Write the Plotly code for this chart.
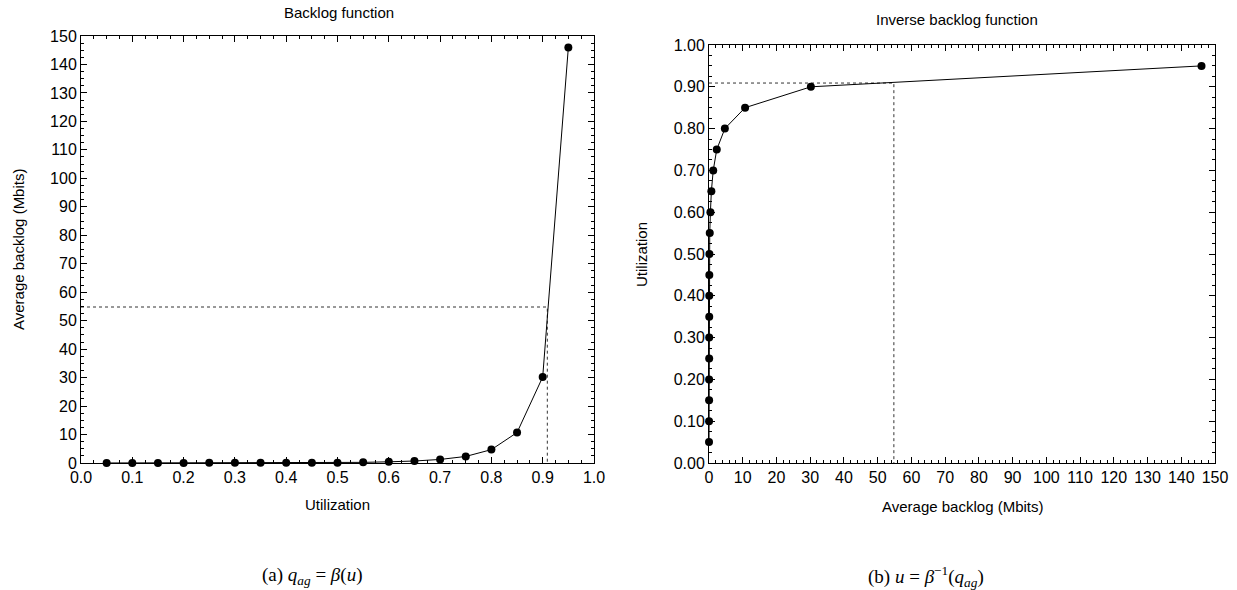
import plotly.graph_objects as go

utilization = [0.05, 0.10, 0.15, 0.20, 0.25, 0.30, 0.35, 0.40, 0.45, 0.50,
               0.55, 0.60, 0.65, 0.70, 0.75, 0.80, 0.85, 0.90, 0.95]
backlog = [0.01, 0.02, 0.03, 0.04, 0.05, 0.06, 0.07, 0.08, 0.10, 0.12,
           0.22, 0.42, 0.70, 1.25, 2.3, 4.7, 10.7, 30.2, 146.0]

# operating point marked by dotted guide lines
cross_util = 0.909
cross_backlog = 54.8

W, H = 1237, 590
FONT = "Liberation Sans"

def dx(px):
    return px / W

def dy(py):
    return 1 - py / H

fig = go.Figure()

# left: backlog function
fig.add_trace(go.Scatter(x=[0, cross_util, cross_util], y=[cross_backlog, cross_backlog, 0],
                         mode="lines", line=dict(color="#333", width=1, dash="dot"),
                         xaxis="x", yaxis="y", showlegend=False, hoverinfo="skip"))
fig.add_trace(go.Scatter(x=utilization, y=backlog, mode="lines+markers",
                         line=dict(color="black", width=1),
                         marker=dict(color="black", size=8),
                         cliponaxis=False, xaxis="x", yaxis="y", showlegend=False))

# right: inverse backlog function
fig.add_trace(go.Scatter(x=[0, cross_backlog, cross_backlog], y=[cross_util, cross_util, 0],
                         mode="lines", line=dict(color="#333", width=1, dash="dot"),
                         xaxis="x2", yaxis="y2", showlegend=False, hoverinfo="skip"))
fig.add_trace(go.Scatter(x=backlog, y=utilization, mode="lines+markers",
                         line=dict(color="black", width=1),
                         marker=dict(color="black", size=8),
                         cliponaxis=False, xaxis="x2", yaxis="y2", showlegend=False))

def axis(domain, rng, dtick, minor, fmt, anchor):
    return dict(domain=domain, range=rng, dtick=dtick, tick0=0, tickformat=fmt,
                automargin=False,
                showgrid=False, zeroline=False, showline=True, linecolor="black",
                linewidth=1, mirror="ticks", ticks="inside", ticklen=6,
                tickcolor="black", tickwidth=1,
                tickfont=dict(family=FONT, size=16, color="black"),
                minor=dict(dtick=minor, tick0=0, ticks="inside", ticklen=3,
                           tickcolor="black", tickwidth=1, showgrid=False),
                anchor=anchor, fixedrange=True)

fig.update_layout(
    width=W, height=H,
    margin=dict(l=0, r=0, t=0, b=0, autoexpand=False),
    paper_bgcolor="white", plot_bgcolor="white",
    font=dict(family=FONT, color="black"),
    xaxis=axis([dx(81), dx(594)], [0, 1], 0.1, 0.025, ".1f", "y"),
    yaxis=axis([dy(463), dy(36)], [0, 150], 10, 2.5, "d", "x"),
    xaxis2=axis([dx(709), dx(1215)], [0, 150], 10, 2, "d", "y2"),
    yaxis2=axis([dy(463), dy(45)], [0, 1], 0.1, 0.025, ".2f", "x2"),
)

def label(text, x, y, size=15, angle=0, family=FONT):
    fig.add_annotation(text=text, x=dx(x), y=dy(y), xref="paper", yref="paper",
                       showarrow=False, textangle=angle,
                       font=dict(family=family, size=size, color="black"),
                       xanchor="center", yanchor="middle")

label("Backlog function", 339, 13)
label("Inverse backlog function", 957, 19)
label("Utilization", 337, 504)
label("Average backlog (Mbits)", 962, 506)
label("Average backlog (Mbits)", 18, 250, angle=-90)
label("Utilization", 641, 254, angle=-90)

SERIF = "Liberation Serif"
label("(a) <i>q</i><sub><i>ag</i></sub> = <i>β</i>(<i>u</i>)", 312, 576, size=19, family=SERIF)
label("(b) <i>u</i> = <i>β</i><sup>−1</sup>(<i>q</i><sub><i>ag</i></sub>)", 926, 576, size=19, family=SERIF)

fig.write_html("out.html", config={"displayModeBar": False},
               post_script="document.body.style.margin='0';")
